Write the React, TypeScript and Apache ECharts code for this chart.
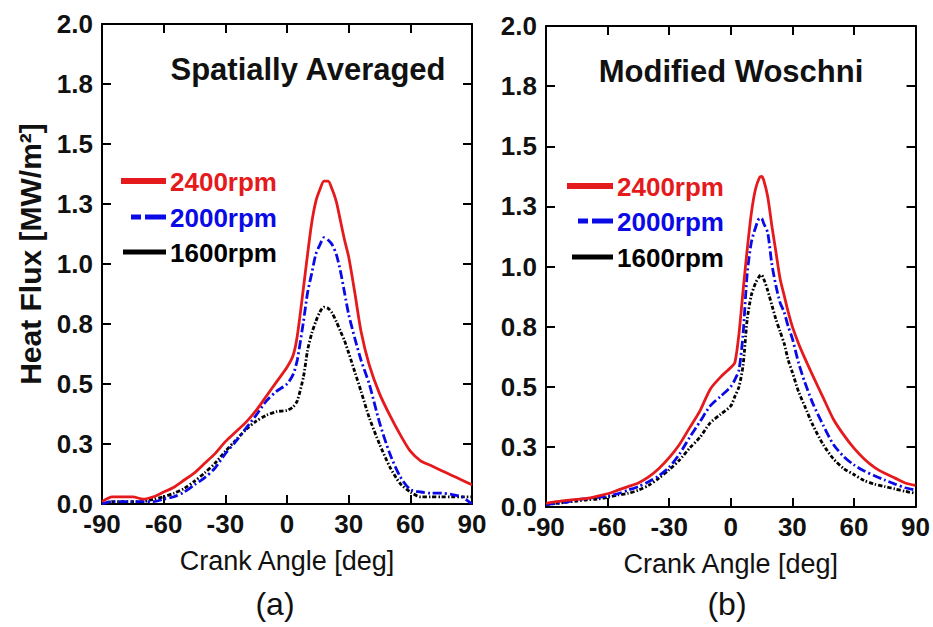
import React, { useEffect, useRef } from "react";
import * as echarts from "echarts";

// ---------- data ----------
const anglesA = [-90, -85, -80, -75, -70, -65, -60, -55, -50, -45, -40, -35, -30, -25, -20, -15, -10, -5, 0, 3, 5, 8, 10, 12, 14, 16, 18, 20, 22, 24, 26, 28, 30, 33, 36, 40, 45, 50, 55, 60, 65, 70, 75, 80, 85, 90];
const heat2400A = [0.01, 0.03, 0.03, 0.03, 0.02, 0.03, 0.05, 0.07, 0.1, 0.13, 0.17, 0.21, 0.26, 0.3, 0.34, 0.39, 0.45, 0.51, 0.57, 0.62, 0.7, 0.9, 1.04, 1.17, 1.26, 1.31, 1.345, 1.345, 1.31, 1.26, 1.18, 1.1, 1.03, 0.88, 0.72, 0.58, 0.46, 0.37, 0.29, 0.22, 0.18, 0.16, 0.14, 0.12, 0.1, 0.08];
const heat2000A = [0.0, 0.01, 0.01, 0.01, 0.01, 0.01, 0.02, 0.03, 0.05, 0.08, 0.11, 0.15, 0.21, 0.26, 0.315, 0.37, 0.43, 0.47, 0.5, 0.54, 0.6, 0.76, 0.88, 0.96, 1.04, 1.08, 1.11, 1.1, 1.08, 1.04, 0.97, 0.88, 0.79, 0.69, 0.6, 0.5, 0.34, 0.21, 0.115, 0.06, 0.05, 0.045, 0.045, 0.04, 0.03, 0.0];
const heat1600A = [0.0, 0.01, 0.01, 0.01, 0.01, 0.02, 0.03, 0.045, 0.065, 0.095, 0.13, 0.17, 0.22, 0.265, 0.31, 0.345, 0.37, 0.385, 0.39, 0.405, 0.43, 0.53, 0.64, 0.71, 0.76, 0.8, 0.82, 0.815, 0.795, 0.76, 0.72, 0.68, 0.63, 0.55, 0.47, 0.36, 0.25, 0.155, 0.086, 0.05, 0.03, 0.03, 0.03, 0.03, 0.03, 0.03];

const anglesB = [-90, -85, -80, -75, -70, -65, -60, -55, -50, -45, -40, -35, -30, -25, -20, -15, -10, -5, 0, 2, 4, 6, 8, 10, 12, 14, 15, 16, 18, 20, 22, 24, 26, 28, 30, 33, 36, 40, 45, 50, 55, 60, 65, 70, 75, 80, 85, 90];
const heat2400B = [0.015, 0.022, 0.028, 0.032, 0.036, 0.045, 0.055, 0.07, 0.085, 0.1, 0.125, 0.16, 0.205, 0.26, 0.33, 0.4, 0.49, 0.54, 0.58, 0.6, 0.72, 0.9, 1.07, 1.22, 1.32, 1.37, 1.375, 1.36, 1.29, 1.17, 1.06, 0.95, 0.88, 0.81, 0.75, 0.68, 0.62, 0.545, 0.455, 0.365, 0.3, 0.245, 0.2, 0.165, 0.14, 0.12, 0.1, 0.09];
const heat2000B = [0.01, 0.015, 0.02, 0.03, 0.035, 0.04, 0.045, 0.055, 0.07, 0.085, 0.105, 0.13, 0.165, 0.22, 0.29, 0.355, 0.42, 0.46, 0.5, 0.53, 0.57, 0.72, 0.97, 1.1, 1.16, 1.2, 1.2, 1.18, 1.14, 1.01, 0.92, 0.85, 0.81, 0.75, 0.7, 0.6, 0.52, 0.43, 0.34, 0.26, 0.21, 0.175, 0.15, 0.13, 0.112, 0.095, 0.08, 0.07];
const heat1600B = [0.01, 0.015, 0.02, 0.025, 0.03, 0.033, 0.04, 0.05, 0.057, 0.07, 0.09, 0.12, 0.155, 0.195, 0.245, 0.29, 0.35, 0.385, 0.42, 0.46, 0.5, 0.59, 0.78, 0.88, 0.93, 0.96, 0.965, 0.95, 0.9, 0.84, 0.78, 0.73, 0.68, 0.61, 0.56, 0.48, 0.42, 0.34, 0.26, 0.2, 0.16, 0.135, 0.11, 0.095, 0.085, 0.075, 0.065, 0.057];

const seriesNames = ["2400rpm", "2000rpm", "1600rpm"];
const panelTitles = ["Spatially Averaged", "Modified Woschni"];
const panelLabels = ["(a)", "(b)"];
const xTitle = "Crank Angle [deg]";
const yTitle = "Heat Flux [MW/m²]";

// ---------- style ----------
const FONT = '"Liberation Sans", Arial, Helvetica, sans-serif';
const colors = ["#e41a1c", "#0a0ae6", "#000000"];
const dashes: any[] = [null, [9, 3, 2, 3], [4, 2, 1.5, 2]];

const grids = [
  { left: 102, top: 24, width: 370, height: 480 },
  { left: 546, top: 26, width: 371, height: 481 },
];

function zip(xs: number[], ys: number[]) {
  return xs.map((x, i) => [x, ys[i]]);
}

export default function App() {
  const ref = useRef<HTMLDivElement>(null);
  useEffect(() => {
    if (!ref.current) return;
    const chart = echarts.init(ref.current, null, { renderer: "svg" });

    const xAxes: any[] = [];
    const yAxes: any[] = [];
    grids.forEach((_, g) => {
      xAxes.push({
        type: "value",
        gridIndex: g,
        min: -90,
        max: 90,
        interval: 30,
        position: "bottom",
        name: xTitle,
        nameLocation: "middle",
        nameGap: 43,
        nameTextStyle: { fontSize: 27, fontFamily: FONT, color: "#111" },
        axisLine: { show: true, onZero: false, lineStyle: { color: "#000", width: 2 } },
        axisTick: { show: true, inside: true, length: 9, lineStyle: { color: "#000", width: 2 } },
        axisLabel: { fontSize: 26, fontWeight: "bold", fontFamily: FONT, color: "#111", margin: 7 },
        splitLine: { show: false },
      });
      xAxes.push({
        type: "value",
        gridIndex: g,
        min: -90,
        max: 90,
        interval: 30,
        position: "top",
        axisLine: { show: true, onZero: false, lineStyle: { color: "#000", width: 2 } },
        axisTick: { show: true, inside: true, length: 9, lineStyle: { color: "#000", width: 2 } },
        axisLabel: { show: false },
        splitLine: { show: false },
      });
      yAxes.push({
        type: "value",
        gridIndex: g,
        min: 0,
        max: 2,
        interval: 0.25,
        position: "left",
        axisLine: { show: true, onZero: false, lineStyle: { color: "#000", width: 2 } },
        axisTick: { show: true, inside: true, length: 9, lineStyle: { color: "#000", width: 2 } },
        axisLabel: {
          fontSize: 26,
          fontWeight: "bold",
          fontFamily: FONT,
          color: "#111",
          margin: 9,
          formatter: (v: number) => v.toFixed(1),
        },
        splitLine: { show: false },
      });
      yAxes.push({
        type: "value",
        gridIndex: g,
        min: 0,
        max: 2,
        interval: 0.25,
        position: "right",
        axisLine: { show: true, onZero: false, lineStyle: { color: "#000", width: 2 } },
        axisTick: { show: true, inside: true, length: 9, lineStyle: { color: "#000", width: 2 } },
        axisLabel: { show: false },
        splitLine: { show: false },
      });
    });

    const panelData = [
      [zip(anglesA, heat2400A), zip(anglesA, heat2000A), zip(anglesA, heat1600A)],
      [zip(anglesB, heat2400B), zip(anglesB, heat2000B), zip(anglesB, heat1600B)],
    ];

    const series: any[] = [];
    panelData.forEach((sets, g) => {
      sets.forEach((d, k) => {
        series.push({
          type: "line",
          name: seriesNames[k],
          xAxisIndex: g * 2,
          yAxisIndex: g * 2,
          data: d,
          showSymbol: false,
          smooth: 0.25,
          lineStyle: { color: colors[k], width: 2.8, type: dashes[k] || "solid" },
          z: 10 - k,
        });
      });
    });

    const graphics: any[] = [];
    // y title
    graphics.push({
      type: "text",
      x: 30,
      y: 254,
      rotation: Math.PI / 2,
      style: {
        text: yTitle,
        fill: "#111",
        font: `bold 30px ${FONT}`,
        align: "center",
        verticalAlign: "middle",
      },
    });
    const titlePos = [
      { x: 308, y: 69 },
      { x: 731, y: 71 },
    ];
    const labelPos = [
      { x: 275, y: 604 },
      { x: 727, y: 604 },
    ];
    const legendPos = [
      { x2: 166, tx: 170, ys: [181, 217, 252], x1s: [121, 131, 123] },
      { x2: 613, tx: 617, ys: [186, 221, 257], x1s: [567, 578, 572] },
    ];
    const legendDash: any[] = [null, [10, 4, 30, 0], null];
    [0, 1].forEach((g) => {
      graphics.push({
        type: "text",
        x: titlePos[g].x,
        y: titlePos[g].y,
        style: {
          text: panelTitles[g],
          fill: "#111",
          font: `bold 31px ${FONT}`,
          align: "center",
          verticalAlign: "middle",
        },
      });
      graphics.push({
        type: "text",
        x: labelPos[g].x,
        y: labelPos[g].y,
        style: {
          text: panelLabels[g],
          fill: "#111",
          font: `32px ${FONT}`,
          align: "center",
          verticalAlign: "middle",
        },
      });
      const lp = legendPos[g];
      seriesNames.forEach((nm, k) => {
        graphics.push({
          type: "line",
          shape: { x1: lp.x1s[k], y1: lp.ys[k], x2: lp.x2, y2: lp.ys[k] },
          style: {
            stroke: colors[k],
            lineWidth: k === 0 ? 6 : 5,
            lineDash: legendDash[k] || undefined,
          },
        });
        graphics.push({
          type: "text",
          x: lp.tx,
          y: lp.ys[k] + 1,
          style: {
            text: nm,
            fill: colors[k],
            font: `bold 26px ${FONT}`,
            align: "left",
            verticalAlign: "middle",
          },
        });
      });
    });

    chart.setOption({
      animation: false,
      backgroundColor: "#ffffff",
      grid: grids.map((g) => ({ ...g, containLabel: false })),
      xAxis: xAxes,
      yAxis: yAxes,
      series,
      graphic: graphics,
    });
    return () => chart.dispose();
  }, []);

  return (
    <div
      ref={ref}
      style={{ position: "absolute", left: 0, top: 0, width: 933, height: 627, background: "#fff" }}
    />
  );
}
